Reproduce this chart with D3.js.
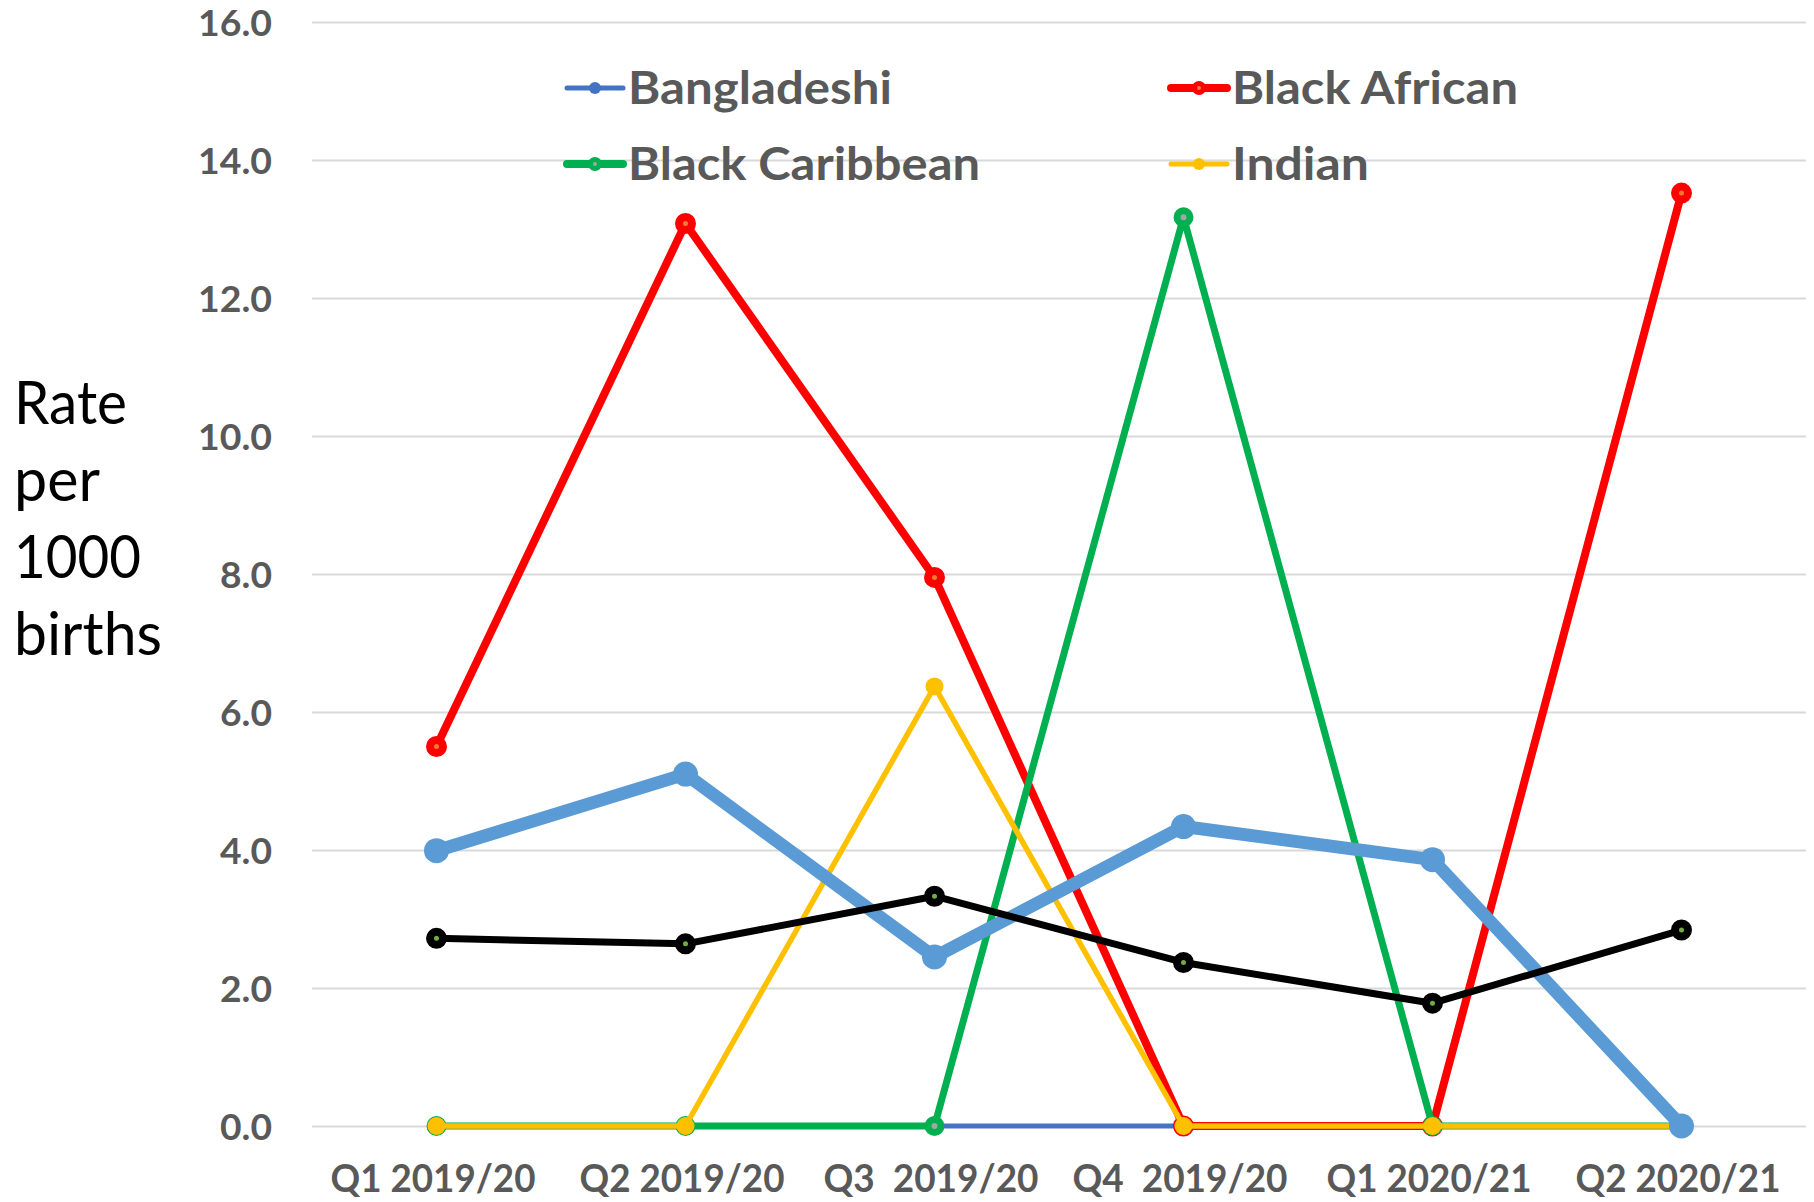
<!DOCTYPE html>
<html>
<head>
<meta charset="utf-8">
<script src="https://cdn.jsdelivr.net/npm/d3@7"></script>
<style>
  html, body { margin: 0; padding: 0; background: #ffffff; }
  svg { display: block; }
  text { font-family: Lato, "Open Sans", "Noto Sans", sans-serif; }
</style>
</head>
<body>
<svg id="chart" width="1814" height="1202"></svg>
<script>
// ---- data ----
const categories = ["Q1 2019/20", "Q2 2019/20", "Q3  2019/20", "Q4  2019/20", "Q1 2020/21", "Q2 2020/21"];
const bangladeshi    = [0, 0, 0, 0, 0, 0];
const blackAfrican   = [5.50, 13.08, 7.95, 0, 0, 13.52];
const blackCaribbean = [0, 0, 0, 13.17, 0, 0];
const indian         = [0, 0, 6.37, 0, 0, 0];
const seriesFive     = [3.99, 5.10, 2.45, 4.34, 3.86, 0];
const seriesSix      = [2.72, 2.64, 3.33, 2.37, 1.78, 2.84];
const yTickValues    = [0, 2, 4, 6, 8, 10, 12, 14, 16];
const legendNames    = ["Bangladeshi", "Black African", "Black Caribbean", "Indian"];
const yTitleLines    = ["Rate", "per", "1000", "births"];

// ---- styles ----
const styles = {
  "Bangladeshi":     { color: "#4472C4", width: 5,  r: 5,   fill: "#4472C4", sw: 0 },
  "Black African":   { color: "#FF0000", width: 8,  r: 6.5, fill: "#ED7D31", sw: 8 },
  "Black Caribbean": { color: "#00B050", width: 7,  r: 6.5, fill: "#A5A5A5", sw: 7 },
  "Indian":          { color: "#FFC000", width: 5.5, r: 9,  fill: "#FFC000", sw: 0 },
  "Series5":         { color: "#5B9BD5", width: 13, r: 12.5, fill: "#5B9BD5", sw: 0 },
  "Series6":         { color: "#000000", width: 7,  r: 6.5, fill: "#70AD47", sw: 8 }
};

const series = [
  { name: "Bangladeshi", values: bangladeshi },
  { name: "Black African", values: blackAfrican },
  { name: "Black Caribbean", values: blackCaribbean },
  { name: "Indian", values: indian },
  { name: "Series5", values: seriesFive },
  { name: "Series6", values: seriesSix }
];

const svg = d3.select("#chart");
svg.append("rect").attr("width", 1814).attr("height", 1202).attr("fill", "#fff");

const plotLeft = 312, plotRight = 1806, plotTop = 22, plotBottom = 1126;

const x = d3.scalePoint().domain(categories).range([plotLeft, plotRight]).padding(0.5);
const y = d3.scaleLinear().domain([0, 16]).range([plotBottom, plotTop]);

// gridlines
const grid = svg.append("g").attr("transform", `translate(${plotLeft},0)`)
  .call(d3.axisLeft(y).tickValues(yTickValues).tickSize(-(plotRight - plotLeft)).tickFormat(""));
grid.select(".domain").remove();
grid.selectAll(".tick line").attr("stroke", "#D9D9D9").attr("stroke-width", 2);

// y tick labels
const yAxis = svg.append("g").attr("transform", `translate(${plotLeft},0)`)
  .call(d3.axisLeft(y).tickValues(yTickValues).tickSize(0).tickPadding(40).tickFormat(d3.format(".1f")));
yAxis.select(".domain").remove();
yAxis.selectAll("text")
  .attr("fill", "#595959")
  .attr("font-size", 36)
  .attr("font-weight", 700)
  .attr("dy", "0.38em")
  .attr("textLength", d => d >= 10 ? 74 : 52)
  .attr("lengthAdjust", "spacingAndGlyphs")
  .style("font-family", "Lato, 'Open Sans', sans-serif");

// x axis labels
const xAxis = svg.append("g").attr("transform", `translate(0,${plotBottom})`)
  .call(d3.axisBottom(x).tickSize(0));
xAxis.select(".domain").remove();
xAxis.selectAll("text")
  .attr("y", 66).attr("dy", 0)
  .attr("fill", "#595959")
  .attr("font-size", 39)
  .attr("font-weight", 700)
  .attr("xml:space", "preserve")
  .style("white-space", "pre")
  .attr("textLength", d => d.indexOf("  ") >= 0 ? 215 : 205)
  .attr("lengthAdjust", "spacingAndGlyphs")
  .attr("transform", "translate(-4,0)")
  .style("font-family", "Lato, 'Open Sans', sans-serif");

// lines
const line = d3.line().x((d, i) => x(categories[i])).y(d => y(d));
const gSeries = svg.append("g");
series.forEach(s => {
  const st = styles[s.name];
  const g = gSeries.append("g");
  g.append("path").datum(s.values)
    .attr("d", line)
    .attr("fill", "none")
    .attr("stroke", st.color)
    .attr("stroke-width", st.width)
    .attr("stroke-linejoin", "round");
  g.selectAll("circle").data(s.values).join("circle")
    .attr("cx", (d, i) => x(categories[i]))
    .attr("cy", d => y(d))
    .attr("r", st.r)
    .attr("fill", st.fill)
    .attr("stroke", st.sw ? st.color : "none")
    .attr("stroke-width", st.sw);
});

// legend
const legendPos = [
  { lx: 567, ty: 88 }, { lx: 1171, ty: 88 },
  { lx: 567, ty: 164 }, { lx: 1171, ty: 164 }
];
const legendWidths = { "Bangladeshi": 264, "Black African": 286, "Black Caribbean": 352, "Indian": 137 };
const legendLineW = { "Bangladeshi": 5, "Black African": 8, "Black Caribbean": 8, "Indian": 5 };
const legend = svg.append("g");
legendNames.forEach((name, i) => {
  const st = styles[name];
  const p = legendPos[i];
  const g = legend.append("g");
  g.append("line")
    .attr("x1", p.lx).attr("x2", p.lx + 56)
    .attr("y1", p.ty).attr("y2", p.ty)
    .attr("stroke", st.color).attr("stroke-width", legendLineW[name]).attr("stroke-linecap", "round");
  g.append("circle")
    .attr("cx", p.lx + 28).attr("cy", p.ty)
    .attr("r", st.sw ? 4.5 : 6)
    .attr("fill", st.fill)
    .attr("stroke", st.sw ? st.color : "none")
    .attr("stroke-width", st.sw ? 5 : 0);
  g.append("text")
    .attr("x", p.lx + 61).attr("y", p.ty + 16)
    .attr("fill", "#595959")
    .attr("font-size", 46)
    .attr("font-weight", 700)
    .attr("textLength", legendWidths[name])
    .attr("lengthAdjust", "spacingAndGlyphs")
    .text(name);
});

// y-axis title
const titleWidths = [113, 86, 127, 148];
const yTitle = svg.append("g");
yTitleLines.forEach((t, i) => {
  yTitle.append("text")
    .attr("x", 14).attr("y", 424 + i * 77)
    .attr("fill", "#000")
    .attr("font-size", 60)
    .attr("textLength", titleWidths[i])
    .attr("lengthAdjust", "spacingAndGlyphs")
    .text(t);
});
</script>
</body>
</html>
